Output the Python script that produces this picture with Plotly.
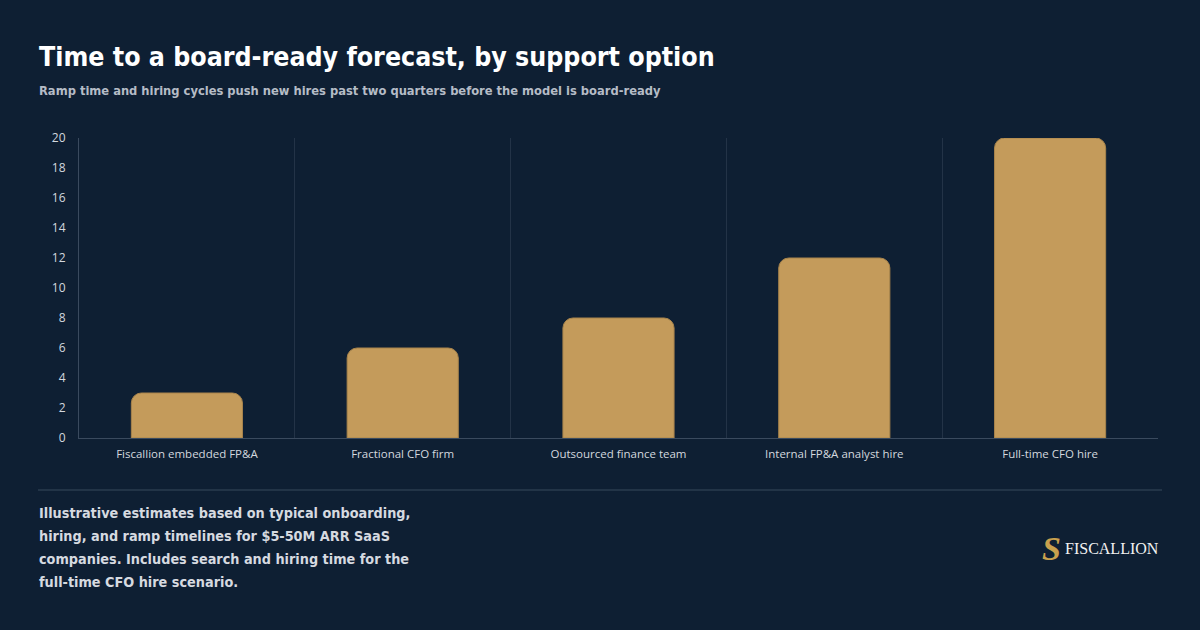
import plotly.graph_objects as go

categories = ["Fiscallion embedded FP&A", "Fractional CFO firm", "Outsourced finance team",
              "Internal FP&A analyst hire", "Full-time CFO hire"]
weeks = [3, 6, 8, 12, 20]
y_ticks = [0, 2, 4, 6, 8, 10, 12, 14, 16, 18, 20]
footnote_lines = [
    "Illustrative estimates based on typical onboarding,",
    "hiring, and ramp timelines for $5-50M ARR SaaS",
    "companies. Includes search and hiring time for the",
    "full-time CFO hire scenario.",
]

BG = "#0E1F33"
GOLD = "#C49B5B"
TITLE_FONT = "DejaVu Sans Condensed, sans-serif"

W, H = 1200, 630
L, R, T, B = 79, 42, 138, 192
pw, ph = W - L - R, H - T - B

def px(x):
    return (x - L) / pw

def py(y):
    return (H - B - y) / ph

fig = go.Figure(go.Bar(
    x=categories, y=weeks, width=0.515,
    marker=dict(color=GOLD, cornerradius=10, line=dict(color="#A8844C", width=1)),
    hoverinfo="skip",
))

annotations = [
    dict(text="<b>Time to a board-ready forecast, by support option</b>", xref="paper", yref="paper",
         x=px(37), y=py(39), xanchor="left", yanchor="top", showarrow=False,
         font=dict(family=TITLE_FONT, size=26.5, color="#FFFFFF")),
    dict(text="<b>Ramp time and hiring cycles push new hires past two quarters before the model is board-ready</b>",
         xref="paper", yref="paper", x=px(37), y=py(81), xanchor="left", yanchor="top", showarrow=False,
         font=dict(family=TITLE_FONT, size=12.8, color="#B5BCC6")),
    dict(text="FISCALLION", xref="paper", yref="paper", x=px(1161), y=py(548), xanchor="right",
         yanchor="middle", showarrow=False,
         font=dict(family="Liberation Serif, DejaVu Serif, serif", size=16, color="#F2F2F2")),
    dict(text="<b><i>S</i></b>", xref="paper", yref="paper", x=px(1051), y=py(548), xanchor="center",
         yanchor="middle", showarrow=False,
         font=dict(family="Liberation Serif, DejaVu Serif, serif", size=34, color="#C9A14E")),
]
for i, line in enumerate(footnote_lines):
    annotations.append(dict(text=f"<b>{line}</b>", xref="paper", yref="paper", x=px(37), y=py(513 + 23 * i),
                            xanchor="left", yanchor="middle", showarrow=False, align="left",
                            font=dict(family=TITLE_FONT, size=14.3, color="#D6DAE0")))

fig.update_layout(
    width=W, height=H, margin=dict(l=L, r=R, t=T, b=B),
    paper_bgcolor=BG, plot_bgcolor=BG, showlegend=False,
    bargap=0.485,
    xaxis=dict(type="category", tickson="boundaries", showgrid=True, gridcolor="#233347",
               gridwidth=1, ticks="", showline=True, linecolor="#3A4A5E", linewidth=1,
               tickfont=dict(family="Open Sans, Noto Sans, sans-serif", size=11.5, color="#D3D8DF"),
               ticklabelstandoff=5, zeroline=False, fixedrange=True),
    yaxis=dict(range=[0, 20], tickvals=y_ticks, showgrid=False, zeroline=False,
               showline=True, linecolor="#3A4A5E", linewidth=1, ticks="",
               tickfont=dict(family="Open Sans, Noto Sans, sans-serif", size=12, color="#D3D8DF"),
               ticklabelstandoff=10, fixedrange=True),
    annotations=annotations,
    shapes=[dict(type="line", xref="paper", yref="paper", x0=px(38), x1=px(1162), y0=py(490), y1=py(490),
                 line=dict(color="#223447", width=2))],
)

fig.write_html("out.html")
